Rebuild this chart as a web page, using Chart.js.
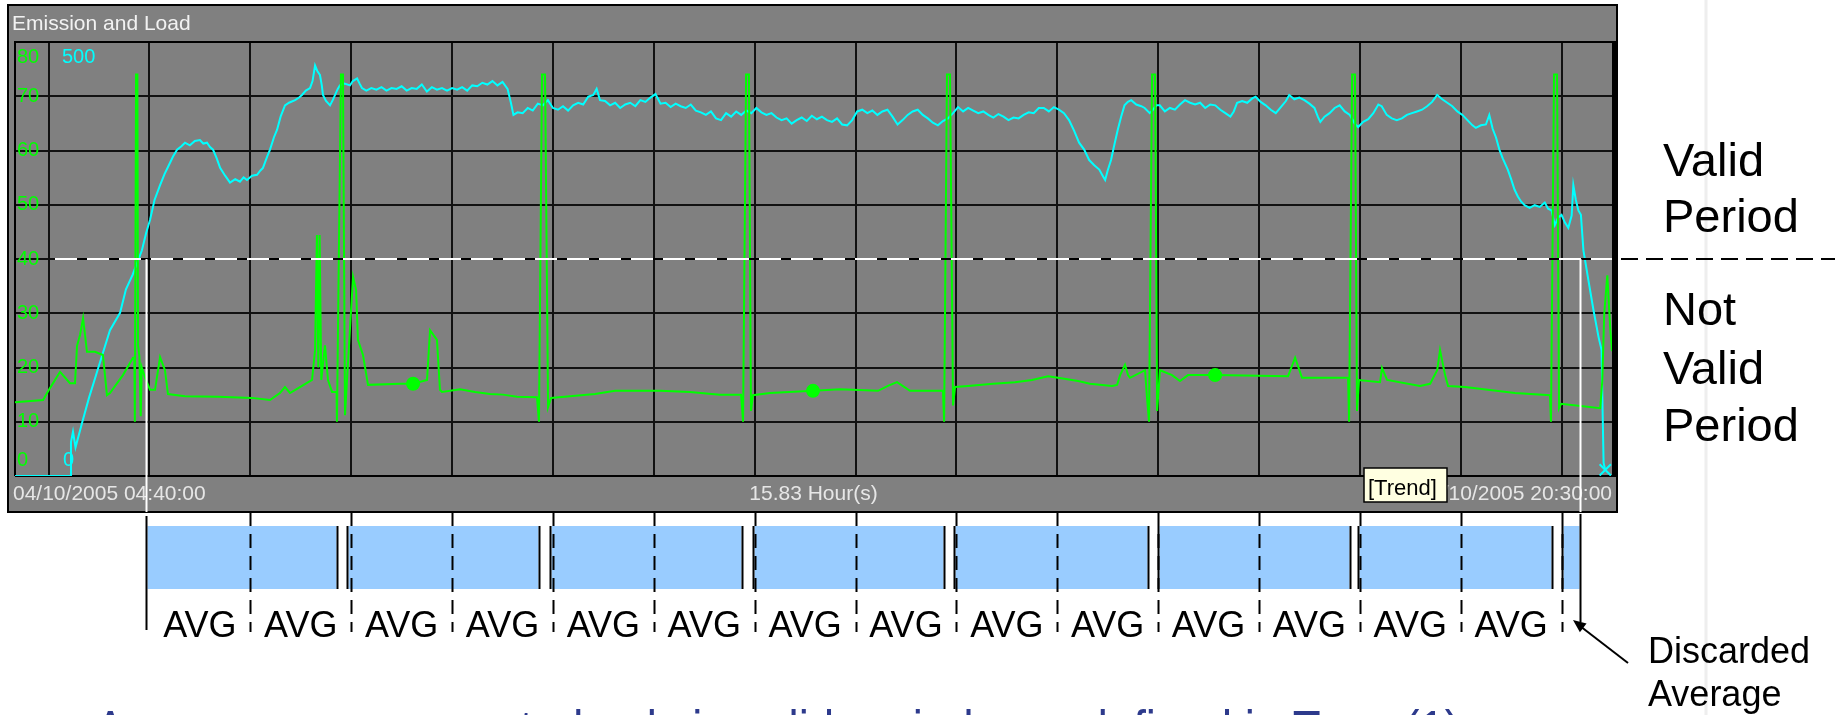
<!DOCTYPE html>
<html>
<head>
<meta charset="utf-8">
<script src="https://cdn.jsdelivr.net/npm/chart.js@4/dist/chart.umd.min.js"></script>
<style>
html,body{margin:0;padding:0;background:#fff;}
#wrap{position:relative;width:1835px;height:715px;overflow:hidden;}
</style>
</head>
<body>
<div id="wrap"><canvas id="c" width="1835" height="715"></canvas></div>
<script>
// ---------- texts ----------
const chartTitle = 'Emission and Load';
const startLabel = '04/10/2005 04:40:00';
const endLabel = '04/10/2005 20:30:00';
const spanLabel = '15.83 Hour(s)';
const trendLabel = '[Trend]';
const validLines = ['Valid', 'Period'];
const notValidLines = ['Not', 'Valid', 'Period'];
const discardLines = ['Discarded', 'Average'];
const avgLabel = 'AVG';
const footerText = 'Averages are generated only in valid periods, as defined in Type (1)';

// ---------- axes (minutes after 04:40) ----------
const spanMinutes = 950;
const hourGrid = [20, 80, 140, 200, 260, 320, 380, 440, 500, 560, 620, 680, 740, 800, 860, 920];
const emisTicks = [0, 10, 20, 30, 40, 50, 60, 70, 80];
const loadTicks = [0, 500];
const validThreshold = 40;

// ---------- averaging annotations (minutes) ----------
const validStart = 77.9;
const validEnd = 931;
const hourMarks = [140, 200, 260, 320, 380, 440, 500, 560, 620, 680, 740, 800, 860, 920];
const avgCenters = [110, 170, 230, 290, 350, 410, 470, 530, 590, 650, 710, 770, 830, 890];
const calStarts = [191.5, 311.7, 432.2, 552.7, 674.0, 794.0, 914.5];
const calEnds   = [197.5, 318.3, 438.8, 558.4, 679.7, 799.0, 920.0];
const markerTimes = [236.8, 474.7, 713.9];

// ---------- series: [minute, value] ----------
const loadSamples = [
[0,0],[33,0],[33.3,39],[34.5,51],[36,33],[40,62],[44,90],[48,115],[52,140],[56.5,168],[62.5,188],[66,215],[70,232],[75.5,260],[78,280],[80.3,295],[83,318],[86.3,335],[89,348],[91,356],[94,368],[96.4,376],[99,380],[101.1,384],[104,381],[107,386],[110,387],[112,383],[114.2,384],[116,379],[117.8,376],[120,366],[122,355],[125,346],[127.9,338],[131,342],[133.8,339],[136,344],[138,341],[141,346],[144,347],[146,352],[147.5,355],[150,368],[151.7,376],[154,390],[155.9,399],[158,414],[160.6,427],[163,430],[166.6,433],[169,436],[170.7,439],[173,444],[175.5,447],[177,455],[178.5,473],[180,466],[181.4,462],[182.5,450],[183.2,439],[185,432],[187.4,427],[189,433],[190.4,439],[192,446],[193.3,450],[196,452],[199.3,450],[201,455],[203.5,458],[205,452],[206.4,447],
[209,444],[212,447],[215,445],[218,448],[221,444],[224,447],[227,446],[230,449],[233,444],[236,447],[239,446],[242,451],[245,443],[248,448],[251,445],[254,447],[257,444],[260,447],[263,445],[266,448],[269,444],[272,450],[275,449],[278,453],[281,451],[284,455],[287,450],[290,454],[293,446],[295,430],[296.5,416],[299,419],[302,418],[305,424],[308,421],[311,429],[314,427],[317,433],[320,424],[323,422],[326,426],[329,421],[332,427],[335,430],[338,428],[341,437],[344,439],[346,446],[348,433],[351,432],[354,427],[357,430],[360,424],[363,428],[366,430],[369,426],[372,433],[375,431],[378,436],[381,440],[384,429],[387,430],[390,425],[393,429],[396,426],[399,424],[402,428],[405,421],[408,419],[411,416],[414,420],[417,412],[420,410],[423,418],[426,414],[429,420],[432,416],[435,421],[438,418],[441,424],[444,419],[447,416],[450,418],[453,413],[456,410],[459,412],[462,406],[465,410],[468,413],[471,409],[474,415],[477,411],[480,414],[483,410],[486,408],[489,412],[492,405],[495,404],[498,410],[501,420],[504,422],[507,418],[510,421],[513,416],[516,420],[519,422],[522,414],[525,405],[528,410],[531,416],[534,420],[537,422],[540,416],[543,412],[546,407],[549,404],[552,409],[555,412],[558,418],[561,425],[564,420],[567,424],[570,421],[573,418],[576,420],[579,416],[582,413],[585,417],[588,414],[591,410],[594,413],[597,412],[600,416],[603,419],[606,418],[609,424],[612,424],[615,420],[618,425],[621,422],[624,418],[627,410],[630,398],[633,384],[636,376],[639,364],[642,358],[645,353],[647,346],[648.5,341],[650,352],[652,364],[654,382],[656,399],[658,414],[660,427],[662,431],[664,433],[667,428],[670,426],[672,424],[675,418],[677,422],[679,427],[681,427],[684,420],[687,424],[690,422],[693,428],[696,433],[699,430],[702,428],[705,430],[708,424],[711,428],[714,427],[717,422],[720,418],[723,414],[725,420],[727,430],[730,432],[733,430],[736,435],[738,437],[741,431],[744,427],[747,422],[750,418],[753,425],[756,432],[758,439],[761,434],[764,436],[767,433],[770,429],[773,424],[775,414],[776.5,408],[779,414],[782,418],[785,424],[788,427],[791,420],[794,416],[797,406],[799,402],[802,408],[805,411],[808,418],[811,428],[813,426],[816,416],[819,412],[822,410],[825,412],[828,416],[831,418],[834,420],[837,422],[840,426],[843,431],[846,439],[849,434],[852,430],[855,426],[858,420],[861,416],[864,410],[867,404],[869,401],[872,404],[875,405],[877,416],[879,400],[881,390],[883,376],[885,366],[888,353],[890,342],[892,330],[894,322],[896,316],[898,312],[901,309],[904,312],[907,310],[910,315],[912,308],[914,306],[916,289],[918,298],[920,301],[922,292],[924,286],[926,300],[927,335],[928.5,318],[930,306],[931.5,301],[933,260],[936,225],[939,191],[942,160],[943.8,145],[944.4,76],[945,15],[946,7]
];

const emisSamples = [
[0,13.6],[16.7,14.0],[20.8,16.2],[26.8,19.2],[32.7,17.1],[35.7,17.1],[36.9,24],[38.7,26],[40.5,29.1],[42.8,22.9],[47.6,22.9],[52.3,22.3],[54.7,14.9],[56.5,15.3],[64.2,18.6],[70.2,21.8],[71.0,21.8],[71.3,10],[72.0,74],[72.8,74],[73.2,24.1],[74.0,22],[74.8,11],[75.4,20],[77.3,18.2],[80.3,15.9],[83.3,15.9],[86.3,21.9],[89.2,19.5],[91,15.1],[101.1,14.7],[120.8,14.6],[141,14.4],[151.7,14.0],[157.6,15.3],[160.6,16.4],[163.6,15.3],[169.5,16.4],[176.7,17.7],[178.5,23.2],[179.6,44.4],[180.4,20],[181.2,44.4],[182.2,17.7],[184.4,24.1],[186.2,17.7],[188.6,15.5],[191.3,15.5],[191.5,10],[193.9,74],[195.1,74],[196.3,11.2],[199.3,27.3],[201.1,36.7],[202.9,34.3],[204,25.1],[207,22.3],[210,16.8],[229,17.0],[236.8,17.0],[245.1,17.7],[246.9,26.9],[251,25.1],[252.8,15.9],[254,15.5],[264.7,16.0],[273.6,15.5],[282.6,15.1],[290.3,15.0],[298.6,14.6],[310.5,14.5],[311.7,10],[313.5,74],[315.3,74],[317.1,12.7],[318.9,14.4],[330.2,14.7],[345,15.1],[357,15.7],[383.7,15.7],[401.5,15.5],[419.4,15.0],[431.9,15.0],[433.1,10],[434.9,74],[436.6,74],[437.8,12],[439,14.9],[449.1,15.3],[474.7,15.7],[490.8,16.0],[513.4,15.7],[519.3,16.6],[524.7,17.3],[532.4,15.7],[552,15.7],[552.7,10],[554.4,74],[556.2,74],[558,13.0],[559.2,16.4],[566.9,16.6],[581.8,17.0],[594.9,17.3],[605,17.7],[614.5,18.4],[620.5,18.1],[632.4,17.5],[639.5,17.0],[652.6,16.6],[655.6,16.8],[657.4,18.6],[660.3,20.5],[662.1,18.6],[663.3,18.1],[672.2,19.5],[673.4,14.4],[674.6,10],[676.4,74],[678.2,74],[679.4,12],[681.1,19.5],[688.3,18.6],[693,17.5],[697.8,18.6],[713.9,18.6],[757.3,18.4],[761.5,21.8],[765.6,18.1],[793,18.1],[793.6,10],[795.4,74],[797.1,74],[798.3,12],[799.5,17.7],[812,17.3],[813.2,19.9],[816.2,17.7],[835.8,16.6],[841.8,17.0],[846,19.5],[847.7,23.2],[850.7,18.6],[852.5,16.6],[862.6,16.4],[892.3,15.3],[913.1,14.9],[913.7,10],[915.5,74],[917.3,74],[918.5,12.5],[919.7,13.3],[943,12.5],[944.2,17.5],[945.4,30],[947.2,37],[949,27],[950,23]
];

// ---------- drawing ----------
const FONT = '"Liberation Sans", Arial, sans-serif';
const PANEL = {x: 8, y: 5, w: 1609, h: 507};

const panelPlugin = {
  id: 'panel',
  beforeDraw(chart) {
    const ctx = chart.ctx, a = chart.chartArea;
    ctx.save();
    ctx.fillStyle = '#ffffff';
    ctx.fillRect(0, 0, chart.width, chart.height);
    ctx.strokeStyle = '#eeeeee'; ctx.lineWidth = 3;
    ctx.beginPath(); ctx.moveTo(1706, 0); ctx.lineTo(1706, 715); ctx.stroke();
    ctx.fillStyle = '#808080';
    ctx.fillRect(PANEL.x, PANEL.y, PANEL.w, PANEL.h);
    ctx.strokeStyle = '#000'; ctx.lineWidth = 2;
    ctx.strokeRect(PANEL.x, PANEL.y, PANEL.w, PANEL.h);
    ctx.fillStyle = '#f2f2f2';
    ctx.font = '21px ' + FONT;
    ctx.textBaseline = 'alphabetic'; ctx.textAlign = 'left';
    ctx.fillText(chartTitle, 12, 30);
    ctx.fillStyle = '#e6e6e6';
    ctx.fillText(startLabel, 13, 500);
    ctx.textAlign = 'center';
    ctx.fillText(spanLabel, (a.left + a.right) / 2, 500);
    ctx.textAlign = 'right';
    ctx.fillText(endLabel, a.right, 500);
    ctx.restore();
  },
  beforeDatasetsDraw(chart) {
    const ctx = chart.ctx, a = chart.chartArea, ys = chart.scales.y;
    ctx.save();
    ctx.strokeStyle = '#000'; ctx.lineWidth = 2;
    ctx.beginPath();
    ctx.moveTo(a.left, a.bottom); ctx.lineTo(a.left, a.top); ctx.lineTo(a.right, a.top);
    ctx.moveTo(a.left, a.bottom); ctx.lineTo(a.right, a.bottom);
    ctx.stroke();
    ctx.fillStyle = '#000';
    ctx.fillRect(a.right, a.top - 1, 5, a.bottom - a.top + 2);
    ctx.font = '20px ' + FONT;
    ctx.textBaseline = 'middle'; ctx.textAlign = 'left';
    ctx.fillStyle = '#00ff00';
    emisTicks.forEach(v => {
      let y = ys.getPixelForValue(v);
      if (v === emisTicks[emisTicks.length - 1]) y = a.top + 15;
      if (v === emisTicks[0]) y = a.bottom - 16;
      ctx.fillText(String(v), a.left + 2, y);
    });
    ctx.fillStyle = '#00ffff';
    ctx.fillText(String(loadTicks[1]), a.left + 47, a.top + 15);
    ctx.fillText(String(loadTicks[0]), a.left + 48, a.bottom - 16);
    ctx.restore();
  },
  afterDatasetsDraw(chart) {
    const ctx = chart.ctx, a = chart.chartArea, xs = chart.scales.x, ys = chart.scales.y;
    const y40 = ys.getPixelForValue(validThreshold);
    const panelBottom = PANEL.y + PANEL.h;
    const panelRight = PANEL.x + PANEL.w;
    ctx.save();
    ctx.lineWidth = 2;
    ctx.strokeStyle = '#000'; ctx.setLineDash([]);
    ctx.beginPath(); ctx.moveTo(55, y40); ctx.lineTo(a.right, y40); ctx.stroke();
    ctx.strokeStyle = '#ffffff'; ctx.setLineDash([22, 10]);
    ctx.beginPath(); ctx.moveTo(55, y40); ctx.lineTo(a.right, y40); ctx.stroke();
    ctx.strokeStyle = '#000'; ctx.setLineDash([17, 8]);
    ctx.beginPath(); ctx.moveTo(panelRight + 4, y40); ctx.lineTo(1835, y40); ctx.stroke();
    ctx.setLineDash([]);
    ctx.strokeStyle = '#ffffff'; ctx.lineWidth = 2;
    [validStart, validEnd].forEach(t => {
      const x = Math.round(xs.getPixelForValue(t)) + 0.5;
      ctx.beginPath(); ctx.moveTo(x, y40); ctx.lineTo(x, panelBottom); ctx.stroke();
    });
    ctx.restore();
  },
  afterDraw(chart) {
    const ctx = chart.ctx, xs = chart.scales.x;
    const px = t => Math.round(xs.getPixelForValue(t)) + 0.5;
    ctx.save();
    ctx.fillStyle = '#ffffe1'; ctx.fillRect(1364, 468, 83, 34);
    ctx.strokeStyle = '#000'; ctx.lineWidth = 1.5; ctx.strokeRect(1364, 468, 83, 34);
    ctx.fillStyle = '#000'; ctx.font = '22px ' + FONT;
    ctx.textAlign = 'left'; ctx.textBaseline = 'alphabetic';
    ctx.fillText(trendLabel, 1368, 495);

    const bandTop = 526, bandBot = 589;
    const segStarts = [validStart].concat(calEnds);
    const segEnds = calStarts.concat([validEnd]);
    ctx.fillStyle = '#99ccff';
    segStarts.forEach((s, i) => {
      const x0 = px(s) + 1, x1 = px(segEnds[i]) - 1;
      ctx.fillRect(x0, bandTop, x1 - x0, bandBot - bandTop);
    });
    ctx.strokeStyle = '#000'; ctx.lineWidth = 2;
    calStarts.forEach((s, i) => {
      [s, calEnds[i]].forEach(t => {
        const x = px(t);
        ctx.beginPath(); ctx.moveTo(x, bandTop); ctx.lineTo(x, bandBot); ctx.stroke();
      });
    });
    ctx.setLineDash([14, 8]);
    hourMarks.forEach(t => {
      const x = px(t);
      ctx.beginPath(); ctx.moveTo(x, 512); ctx.lineTo(x, 632); ctx.stroke();
    });
    ctx.setLineDash([]);
    let x = px(validStart);
    ctx.beginPath(); ctx.moveTo(x, 516); ctx.lineTo(x, 630); ctx.stroke();
    x = px(validEnd);
    ctx.beginPath(); ctx.moveTo(x, 514); ctx.lineTo(x, 622); ctx.stroke();

    ctx.fillStyle = '#000'; ctx.font = '36px ' + FONT;
    ctx.textAlign = 'center'; ctx.textBaseline = 'alphabetic';
    avgCenters.forEach(t => ctx.fillText(avgLabel, xs.getPixelForValue(t), 637));

    ctx.lineWidth = 2;
    ctx.beginPath(); ctx.moveTo(1628, 663); ctx.lineTo(1580, 626); ctx.stroke();
    const ang = Math.atan2(626 - 663, 1580 - 1628);
    const tipX = 1573, tipY = 620;
    ctx.beginPath();
    ctx.moveTo(tipX, tipY);
    ctx.lineTo(tipX - 14 * Math.cos(ang - 0.4), tipY - 14 * Math.sin(ang - 0.4));
    ctx.lineTo(tipX - 14 * Math.cos(ang + 0.4), tipY - 14 * Math.sin(ang + 0.4));
    ctx.closePath(); ctx.fill();

    ctx.textAlign = 'left';
    ctx.font = '47px ' + FONT;
    ctx.fillText(validLines[0], 1663, 176);
    ctx.fillText(validLines[1], 1663, 232);
    ctx.fillText(notValidLines[0], 1663, 325);
    ctx.fillText(notValidLines[1], 1663, 384);
    ctx.fillText(notValidLines[2], 1663, 441);
    ctx.font = '36px ' + FONT;
    ctx.fillText(discardLines[0], 1648, 663);
    ctx.fillText(discardLines[1], 1648, 706);

    ctx.fillStyle = '#2d3a8c';
    ctx.font = '54px ' + FONT;
    const w = ctx.measureText(footerText).width;
    ctx.save();
    ctx.translate(95, 748);
    ctx.scale(1365 / w, 1);
    ctx.fillText(footerText, 0, 0);
    ctx.restore();
    ctx.restore();
  }
};

const chart = new Chart(document.getElementById('c'), {
  type: 'line',
  data: {
    datasets: [
      {
        label: 'Emission',
        data: emisSamples.map(p => ({x: p[0], y: p[1]})),
        yAxisID: 'y',
        borderColor: '#00ff00',
        backgroundColor: '#00ff00',
        borderWidth: 2,
        tension: 0,
        pointRadius: c => (c.raw && markerTimes.includes(c.raw.x)) ? 6 : 0,
        pointBackgroundColor: '#00ff00',
        pointBorderColor: '#00ff00',
        order: 0
      },
      {
        label: 'Load',
        data: loadSamples.map(p => ({x: p[0], y: p[1]})),
        yAxisID: 'y2',
        borderColor: '#00ffff',
        backgroundColor: '#00ffff',
        borderWidth: 2,
        tension: 0,
        pointStyle: 'crossRot',
        pointRadius: c => (c.dataIndex === loadSamples.length - 1) ? 8 : 0,
        pointBorderColor: '#00ffff',
        pointBorderWidth: 2,
        order: 1
      }
    ]
  },
  options: {
    responsive: false,
    animation: false,
    devicePixelRatio: 1,
    events: [],
    layout: {padding: {left: 15, top: 42, right: 223, bottom: 239}},
    plugins: {legend: {display: false}, tooltip: {enabled: false}},
    scales: {
      x: {
        type: 'linear', min: 0, max: spanMinutes,
        afterBuildTicks: s => { s.ticks = hourGrid.map(v => ({value: v})); },
        ticks: {display: false},
        grid: {color: '#111', lineWidth: 2, drawTicks: false},
        border: {display: false}
      },
      y: {
        type: 'linear', min: emisTicks[0], max: emisTicks[emisTicks.length - 1],
        ticks: {display: false, stepSize: 10},
        grid: {color: '#111', lineWidth: 2, drawTicks: false},
        border: {display: false}
      },
      y2: {
        type: 'linear', min: loadTicks[0], max: loadTicks[1], display: false
      }
    }
  },
  plugins: [panelPlugin]
});
</script>
</body>
</html>
